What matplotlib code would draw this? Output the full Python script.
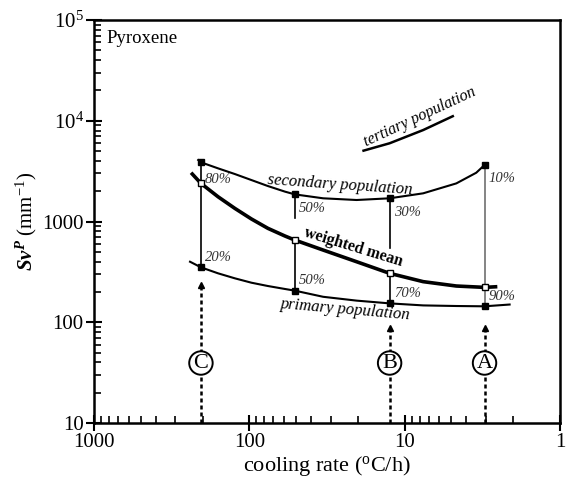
import numpy as np
import matplotlib
matplotlib.use('Agg')
import matplotlib.pyplot as plt
from matplotlib.ticker import FixedLocator, FuncFormatter, LogLocator

plt.rcParams['font.family'] = ['Liberation Serif', 'DejaVu Serif']
plt.rcParams['mathtext.fontset'] = 'custom'
plt.rcParams['mathtext.rm'] = 'Liberation Serif'
plt.rcParams['mathtext.it'] = 'Liberation Serif:italic'
plt.rcParams['mathtext.bf'] = 'Liberation Serif:bold'
plt.rcParams['mathtext.bfit'] = 'Liberation Serif:italic:bold'

# sample columns (cooling rate, oC/h)
rates = [205, 51, 12.5, 3.06]
secondary = [3870, 1860, 1700, 3640]
weighted = [2390, 655, 306, 222]
primary = [351, 206, 154, 144]
sec_pct = ['80%', '50%', '30%', '10%']
prim_pct = ['20%', '50%', '70%', '90%']

# curves
sec_x = [213.5, 205, 159, 124, 97, 76, 59, 51, 33.5, 20.4, 12.5, 7.6, 4.65, 3.46, 3.06]
sec_y = [4080, 3870, 3370, 2960, 2580, 2250, 1980, 1860, 1700, 1635, 1700, 1905, 2390, 3050, 3640]
wm_x = [233, 205, 159, 124, 97, 76, 59, 51, 33.5, 20.4, 12.5, 7.6, 4.65, 3.06, 2.6]
wm_y = [2960, 2390, 1760, 1350, 1060, 856, 718, 655, 521, 399, 306, 253, 229, 222, 225]
pr_x = [241, 205, 159, 124, 97, 76, 59, 51, 33.5, 20.4, 12.5, 7.6, 4.65, 3.06, 2.11]
pr_y = [399, 351, 306, 273, 247, 229, 214, 206, 179, 164, 154, 147, 145, 144, 150]
ter_x = [18.4, 12.5, 7.6, 4.9]
ter_y = [5050, 5980, 8090, 11100]

# middle tie lines are broken below the secondary marker
stub_end = [None, 1083, 546, None]

# sample labels and arrows
samples = ['C', 'B', 'A']
sample_rate = [205, 12.5, 3.06]
arrow_top = [234, 88, 88]

fig = plt.figure(figsize=(5.77, 4.86), dpi=100)
ax = fig.add_axes([0.163, 0.1296, 0.8075, 0.8292])
ax.set_xscale('log')
ax.set_yscale('log')
ax.set_xlim(1000, 1)
ax.set_ylim(10, 1e5)

# tie lines
for i, r in enumerate(rates):
    col = '#707070' if i == 3 else 'black'
    if stub_end[i] is None:
        ax.plot([r, r], [primary[i], secondary[i]], color=col, lw=1.2, zorder=2)
    else:
        ax.plot([r, r], [stub_end[i], secondary[i]], color=col, lw=1.2, zorder=2)
        ax.plot([r, r], [primary[i], weighted[i]], color=col, lw=1.2, zorder=2)

ax.plot(sec_x, sec_y, color='black', lw=1.5, zorder=3, solid_joinstyle='round')
ax.plot(wm_x, wm_y, color='black', lw=2.6, zorder=3, solid_joinstyle='round')
ax.plot(pr_x, pr_y, color='black', lw=1.5, zorder=3, solid_joinstyle='round')
ax.plot(ter_x, ter_y, color='black', lw=1.8, zorder=3, solid_joinstyle='round')

ax.plot(rates, secondary, 's', color='black', ms=5, zorder=4)
ax.plot(rates, primary, 's', color='black', ms=5, zorder=4)
ax.plot(rates, weighted, 's', mfc='white', mec='black', mew=1, ms=5, zorder=4)

for i, r in enumerate(rates):
    ax.annotate(sec_pct[i], (r, secondary[i] if i != 0 else weighted[i]),
                xytext=(3, -10) if i != 0 else (3, 3), textcoords='offset points',
                fontsize=10.5, style='italic', color='#333333', va='center', ha='left')
    ax.annotate(prim_pct[i], (r, primary[i]), xytext=(3, 7),
                textcoords='offset points', fontsize=10.5, style='italic',
                color='#333333', va='center', ha='left')

for s, r, top in zip(samples, sample_rate, arrow_top):
    ax.plot([r, r], [10, top], color='black', lw=1.8, ls=(0, (1.6, 1.2)), zorder=2)
    ax.plot([r], [top], marker='^', color='black', ms=5, zorder=2)
    ax.text(r, 39.4, s, fontsize=16, ha='center', va='center', zorder=5,
            bbox=dict(boxstyle='circle,pad=0.1', fc='white', ec='black', lw=1.4))

ax.text(0.528, 0.590, 'secondary population', transform=ax.transAxes, fontsize=12,
        style='italic', rotation=-4, ha='center', va='center')
ax.text(0.556, 0.437, 'weighted mean', transform=ax.transAxes, fontsize=11.5,
        weight='bold', rotation=-17, ha='center', va='center')
ax.text(0.540, 0.280, 'primary population', transform=ax.transAxes, fontsize=12,
        style='italic', rotation=-5, ha='center', va='center')
ax.text(0.700, 0.759, 'tertiary population', transform=ax.transAxes, fontsize=11.5,
        style='italic', rotation=25, ha='center', va='center')
ax.text(0.026, 0.954, 'Pyroxene', transform=ax.transAxes, fontsize=13.5,
        ha='left', va='center')

# axes styling
for sp in ax.spines.values():
    sp.set_linewidth(1.8)
ax.xaxis.set_major_locator(FixedLocator([1000, 100, 10, 1]))
ax.xaxis.set_major_formatter(FuncFormatter(lambda v, p: '%d' % v))
ax.yaxis.set_major_locator(FixedLocator([10, 100, 1000, 1e4, 1e5]))
ylabels = {10: '10', 100: '100', 1000: '1000', 10000: '$10^4$', 100000: '$10^5$'}
ax.yaxis.set_major_formatter(FuncFormatter(lambda v, p: ylabels.get(int(round(v)), '')))
ax.xaxis.set_minor_locator(LogLocator(base=10, subs=np.arange(2, 10)))
ax.yaxis.set_minor_locator(LogLocator(base=10, subs=np.arange(2, 10)))
ax.xaxis.set_minor_formatter(FuncFormatter(lambda v, p: ''))
ax.yaxis.set_minor_formatter(FuncFormatter(lambda v, p: ''))
ax.tick_params(which='major', direction='inout', length=11, width=1.5, labelsize=15,
               top=False, right=False, pad=2)
ax.tick_params(which='minor', direction='in', length=5, width=1.2, top=False, right=False)

ax.set_xlabel(r'cooling rate ($^{\mathrm{o}}$C/h)', fontsize=16, labelpad=1)
ax.set_ylabel(r'$\mathbfit{Sv}^{\mathbfit{P}}$ (mm$^{\mathrm{-1}}$)', fontsize=15, labelpad=2)

fig.savefig('out.png', dpi=100)
